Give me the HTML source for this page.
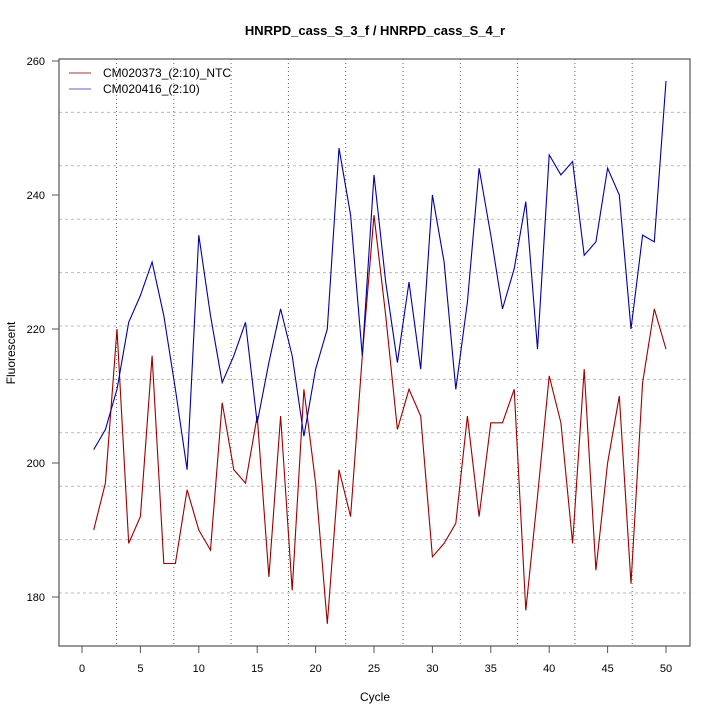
<!DOCTYPE html>
<html><head><meta charset="utf-8"><style>
html,body{margin:0;padding:0;background:#fff;}
svg{display:block;font-family:"Liberation Sans",sans-serif;}
</style></head><body>
<svg id="s" width="720" height="720" xmlns="http://www.w3.org/2000/svg">
<rect width="720" height="720" fill="#fff"/>
<text x="375" y="35" text-anchor="middle" font-size="13" font-weight="bold">HNRPD_cass_S_3_f / HNRPD_cass_S_4_r</text>
<text x="375" y="701" text-anchor="middle" font-size="12">Cycle</text>
<text transform="translate(15,353) rotate(-90)" text-anchor="middle" font-size="12">Fluorescent</text>
<g id="grid"></g>
<g id="series"></g>
<rect x="59" y="59" width="631" height="587" fill="none" stroke="#555" stroke-width="1.2"/>
<g id="axes" font-size="11"></g>
<line x1="69" y1="73" x2="91" y2="73" stroke="#a03030"/>
<line x1="69" y1="89" x2="91" y2="89" stroke="#6060d0"/>
<text x="103" y="77" font-size="12">CM020373_(2:10)_NTC</text>
<text x="103" y="93" font-size="12">CM020416_(2:10)</text>
</svg>
<script>
var NS="http://www.w3.org/2000/svg";
function el(t,a,p,txt){var e=document.createElementNS(NS,t);for(var k in a)e.setAttribute(k,a[k]);if(txt!=null)e.textContent=txt;document.getElementById(p).appendChild(e);return e;}
var X=function(c){return 82+11.68*c;},Y=function(v){return 61+(260-v)*6.7;};
for(var i=0;i<10;i++){var x=116.5+57.3*i;el("line",{x1:x,y1:59,x2:x,y2:646,stroke:"#666","stroke-dasharray":"1,3"},"grid");}
for(var i=0;i<10;i++){var y=593-53.4*i;if(y<60)continue;el("line",{x1:59,y1:y,x2:690,y2:y,stroke:"#bbb","stroke-dasharray":"3,3"},"grid");}
var r=[190,197,220,188,192,216,185,185,196,190,187,209,199,197,207,183,207,181,211,197,176,199,192,216,237,222,205,211,207,186,188,191,207,192,206,206,211,178,195,213,206,188,214,184,200,210,182,212,223,217];
var b=[202,205,211,221,225,230,222,211,199,234,222,212,216,221,206,215,223,216,204,214,220,247,237,216,243,227,215,227,214,240,230,211,224,244,234,223,229,239,217,246,243,245,231,233,244,240,220,234,233,257];
function pts(a){return a.map(function(v,i){return X(i+1).toFixed(1)+","+Y(v).toFixed(1);}).join(" ");}
el("polyline",{points:pts(r),fill:"none",stroke:"#9a0000","stroke-width":1.1},"series");
el("polyline",{points:pts(b),fill:"none",stroke:"#0000a0","stroke-width":1.1},"series");
for(var c=0;c<=50;c+=5){var x=X(c);el("line",{x1:x,y1:646,x2:x,y2:653,stroke:"#555"},"axes");el("text",{x:x,y:672,"text-anchor":"middle"},"axes",String(c));}
for(var v=180;v<=260;v+=20){var y=Y(v);el("line",{x1:52,y1:y,x2:59,y2:y,stroke:"#555"},"axes");el("text",{x:45,y:y+4,"text-anchor":"end"},"axes",String(v));}
</script>
</body></html>
